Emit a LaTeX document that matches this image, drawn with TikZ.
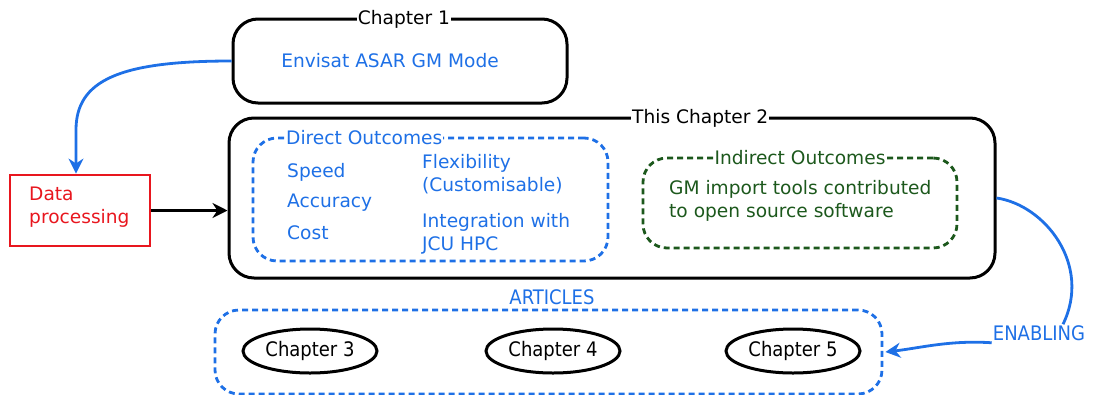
\documentclass[tikz,border=0pt]{standalone}
\usepackage{fontspec}
\setmainfont{DejaVu Sans}
\newfontfamily\condfont{DejaVu Sans Condensed}
\usetikzlibrary{arrows.meta,shapes.geometric}
\definecolor{lblue}{RGB}{30,112,230}
\definecolor{dgreen}{RGB}{28,88,28}
\definecolor{dred}{RGB}{232,22,30}

\begin{document}
\begin{tikzpicture}[x=1pt,y=-1pt,
  font=\fontsize{18.6}{23}\selectfont,
  chapbox/.style={draw=black, line width=3pt, rounded corners=25pt, inner sep=0pt},
  bluedash/.style={draw=lblue, line width=2.8pt, rounded corners=24pt, inner sep=0pt,
    dash pattern=on 6pt off 4pt},
  greendash/.style={draw=dgreen, line width=2.8pt, rounded corners=24pt, inner sep=0pt,
    dash pattern=on 6pt off 4pt},
  boxtitle/.style={fill=white, inner sep=1pt},
  item/.style={anchor=west, inner sep=0pt, align=left},
  condtext/.style={font=\condfont\fontsize{20}{24}\selectfont},
  oval/.style={draw=black, line width=3pt, ellipse, inner sep=0pt,
    minimum width=134pt, minimum height=44pt, condtext},
  bluearrow/.style={draw=lblue, line width=2.8pt, -{Stealth[length=15pt,width=15pt]}},
  blackarrow/.style={draw=black, line width=2.8pt, -{Stealth[length=15pt,width=15pt]}}
]
\useasboundingbox (0,0) rectangle (1100,394);

% Chapter 1
\node[chapbox, minimum width=334pt, minimum height=84pt] (ch1) at (400,61) {};
\node[boxtitle] (ch1t) at (404,19) {Chapter 1};
\node[text=lblue] (envisat) at (390,61) {Envisat ASAR GM Mode};

% Data processing
\node[draw=dred, line width=2.8pt, minimum width=140pt, minimum height=71pt, inner sep=0pt]
  (dp) at (80,210.5) {};
\node[item, text=dred, text width=110pt] (dpt) at (29,207) {Data\\processing};

% Chapter 2
\node[chapbox, minimum width=766pt, minimum height=160pt] (ch2) at (612,198) {};
\node[boxtitle, anchor=west] (ch2t) at (631,118) {This Chapter 2};

% Direct outcomes
\node[bluedash, minimum width=355pt, minimum height=123pt] (direct) at (430.5,199.5) {};
\node[boxtitle, anchor=west, text=lblue] (directt) at (285,138) {Direct Outcomes};
\node[item, text=lblue] (speed) at (287,172) {Speed};
\node[item, text=lblue] (accuracy) at (287,203) {Accuracy};
\node[item, text=lblue] (cost) at (287,233) {Cost};
\node[item, text=lblue] (flex) at (422,174) {Flexibility\\(Customisable)};
\node[item, text=lblue] (integ) at (422,234) {Integration with\\JCU HPC};

% Indirect outcomes
\node[greendash, minimum width=314pt, minimum height=90pt] (indirect) at (800,203) {};
\node[boxtitle, text=dgreen] (indirectt) at (800,158) {Indirect Outcomes};
\node[item, text=dgreen] (gm) at (669,201) {GM import tools contributed\\to open source software};

% Articles
\node[bluedash, minimum width=667pt, minimum height=84pt] (art) at (548.5,352) {};
\node[text=lblue, condtext] (artt) at (552,297) {ARTICLES};
\node[oval] (c3) at (310,351) {Chapter 3};
\node[oval] (c4) at (553,351) {Chapter 4};
\node[oval] (c5) at (793,351) {Chapter 5};

% Enabling label
\node[text=lblue, condtext, inner sep=1pt] (enab) at (1039,333) {ENABLING};

% Connectors
\draw[bluearrow] (ch1.west) .. controls (120,61) and (76,80) .. (76,130) -- ([xshift=-4pt]dp.north);
\draw[blackarrow] (dp.east) -- (dp.east -| ch2.west);
\draw[draw=lblue, line width=2.8pt] (ch2.east) .. controls (1045,205) and (1092,265) .. ([xshift=24pt]enab.north);
\draw[bluearrow] ([yshift=-1pt]enab.south west) .. controls (950,340) and (920,348) .. ([xshift=2pt]art.east);
\end{tikzpicture}
\end{document}
